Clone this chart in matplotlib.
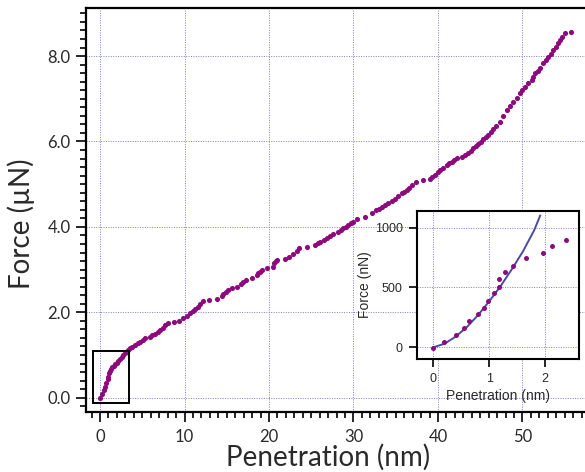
import matplotlib.pyplot as plt
from matplotlib.patches import Rectangle
from matplotlib.ticker import MultipleLocator, FormatStrFormatter

# force-penetration curve, penetration in nm, force in uN
penetration = [0.00, 0.25, 0.45, 0.59, 0.75, 0.90, 0.98, 1.10, 1.18, 1.30, 1.45, 1.65, 1.82, 1.97,
               2.15, 2.35, 2.56, 2.75, 2.95, 3.15, 3.35, 3.55, 3.80, 4.14, 4.45, 4.73, 5.05, 5.33,
               5.92, 6.20, 6.50, 6.85, 7.10, 7.40, 7.69, 8.09, 8.76, 9.35, 9.86, 10.25, 10.65, 11.00,
               11.24, 11.55, 11.83, 12.15, 12.94, 13.88, 14.40, 14.60, 14.90, 15.19, 15.59, 16.17,
               16.65, 16.96, 17.28, 17.95, 18.54, 18.75, 18.93, 19.13, 19.72, 20.43, 20.59, 20.80,
               20.99, 21.89, 22.40, 22.88, 23.28, 23.59, 24.46, 25.44, 25.75, 26.04, 26.45, 26.83,
               27.20, 27.61, 28.20, 28.50, 28.80, 29.10, 29.39, 29.70, 29.98, 30.38, 31.36, 32.23,
               32.62, 33.00, 33.33, 33.70, 34.12, 34.50, 34.91, 35.30, 35.70, 36.00, 36.30, 36.60,
               36.90, 37.40, 38.26, 39.05, 39.35, 39.64, 39.95, 40.24, 40.60, 41.03, 41.30, 41.62,
               41.90, 42.21, 42.80, 43.20, 43.59, 43.90, 44.18, 44.45, 44.77, 45.05, 45.36, 45.65,
               45.96, 46.30, 46.55, 46.90, 47.34, 47.70, 48.13, 48.50, 48.91, 49.30, 49.70, 50.00,
               50.30, 50.70, 51.09, 51.30, 51.48, 51.80, 52.07, 52.47, 52.75, 53.05, 53.35, 53.65,
               53.95, 54.24, 54.45, 54.64, 55.03, 55.74]
force = [-0.01, 0.08, 0.18, 0.26, 0.35, 0.44, 0.49, 0.58, 0.62, 0.67, 0.71, 0.75, 0.78, 0.81,
         0.85, 0.91, 0.96, 1.00, 1.04, 1.08, 1.12, 1.16, 1.19, 1.23, 1.27, 1.31, 1.36, 1.39,
         1.43, 1.46, 1.49, 1.54, 1.59, 1.64, 1.70, 1.76, 1.77, 1.80, 1.86, 1.92, 1.98, 2.03,
         2.07, 2.13, 2.19, 2.26, 2.29, 2.31, 2.38, 2.44, 2.48, 2.52, 2.56, 2.60,
         2.66, 2.72, 2.76, 2.80, 2.87, 2.91, 2.95, 2.99, 3.03, 3.07, 3.15, 3.19,
         3.22, 3.25, 3.29, 3.36, 3.44, 3.50, 3.52, 3.58, 3.62, 3.65, 3.69, 3.73,
         3.78, 3.83, 3.89, 3.93, 3.97, 4.00, 4.04, 4.08, 4.12, 4.18, 4.24, 4.32,
         4.40, 4.43, 4.47, 4.51, 4.55, 4.60, 4.65, 4.72, 4.79, 4.82, 4.86, 4.92,
         4.98, 5.06, 5.10, 5.11, 5.16, 5.22, 5.28, 5.33, 5.39, 5.45, 5.49, 5.53,
         5.57, 5.61, 5.64, 5.68, 5.72, 5.78, 5.84, 5.89, 5.94, 5.99, 6.05, 6.10,
         6.15, 6.22, 6.29, 6.37, 6.46, 6.60, 6.74, 6.83, 6.93, 7.03, 7.13, 7.20,
         7.28, 7.36, 7.44, 7.52, 7.60, 7.66, 7.71, 7.83, 7.90, 7.98, 8.06, 8.14,
         8.22, 8.30, 8.38, 8.45, 8.55, 8.57]

# first few nm, force in nN
zoom_pen = [0.00, 0.18, 0.40, 0.54, 0.64, 0.80, 0.90, 0.97, 1.09, 1.17, 1.18, 1.28, 1.43,
            1.66, 1.96, 2.13, 2.38]
zoom_force = [-8, 47, 103, 159, 220, 276, 331, 390, 451, 507, 571, 626, 682,
              743, 790, 846, 896]

# contact model fit
fit_pen = [0.0, 0.2, 0.4, 0.6, 0.8, 1.0, 1.2, 1.4, 1.6, 1.8, 1.91]
fit_force = [0, 30, 90, 170, 270, 385, 510, 650, 800, 975, 1100]

dot_color = '#8c0a7c'
fit_color = '#4a4aa2'
grid_color = '#7c7cc8'
text_color = '#2a2a2a'
main_font = 'Lato'
inset_font = 'Liberation Sans'

fig = plt.figure(figsize=(5.85, 4.72), dpi=100)
ax = fig.add_axes([86 / 585, 60 / 472, 499 / 585, 404 / 472])

ax.plot(penetration, force, 'o', color=dot_color, ms=3.7, mew=0, zorder=3)
ax.add_patch(Rectangle((-0.79, -0.12), 4.26, 1.22, fill=False, ec='black', lw=1.4, zorder=4))

ax.set_xlim(-1.66, 57.4)
ax.set_ylim(-0.335, 9.126)
ax.xaxis.set_major_locator(MultipleLocator(10))
ax.xaxis.set_minor_locator(MultipleLocator(1))
ax.yaxis.set_major_locator(MultipleLocator(2))
ax.yaxis.set_minor_locator(MultipleLocator(0.2))
ax.yaxis.set_major_formatter(FormatStrFormatter('%.1f'))
ax.tick_params(which='major', direction='out', length=7, width=1.2, labelsize=12, pad=4)
ax.tick_params(which='minor', direction='out', length=4, width=1.2)
ax.tick_params(axis='x', which='major', pad=5)
for lab in ax.get_xticklabels() + ax.get_yticklabels():
    lab.set_family(main_font)
    lab.set_color(text_color)

ax.grid(True, which='major', color=grid_color, ls=(0, (1, 1.5)), lw=0.7)
ax.spines['right'].set_visible(False)
for s in ['left', 'bottom', 'top']:
    ax.spines[s].set_linewidth(1.6)

ax.set_xlabel('Penetration (nm)', fontsize=20, family=main_font, color=text_color)
ax.set_ylabel('Force (µN)', fontsize=20, family=main_font, color=text_color)
ax.xaxis.set_label_coords(0.485, -0.113)
ax.xaxis.label.set_va('center')
ax.yaxis.set_label_coords(-0.13, 0.465)
ax.yaxis.label.set_va('center')

# inset: start of the curve with the fit
ins = fig.add_axes([416.7 / 585, 113 / 472, 162 / 585, 148 / 472])
ins.set_facecolor('white')
ins.plot(fit_pen, fit_force, '-', color=fit_color, lw=1.4, zorder=3)
ins.plot(zoom_pen, zoom_force, 'o', color=dot_color, ms=3.6, mew=0, zorder=4)
ins.set_xlim(-0.30, 2.60)
ins.set_ylim(-98, 1139)
ins.set_xticks([0, 1, 2])
ins.set_yticks([0, 500, 1000])
ins.tick_params(direction='out', length=6, width=1.2, labelsize=9, pad=4)
for lab in ins.get_xticklabels() + ins.get_yticklabels():
    lab.set_family(inset_font)
    lab.set_color(text_color)
ins.grid(True, color=grid_color, ls=(0, (1, 1.5)), lw=0.7)
for s in ins.spines.values():
    s.set_linewidth(1.5)
ins.set_xlabel('Penetration (nm)', fontsize=10, family=inset_font, color=text_color, labelpad=3)
ins.set_ylabel('Force (nN)', fontsize=10, family=inset_font, color=text_color, labelpad=2)

plt.savefig('out.png', dpi=100)
